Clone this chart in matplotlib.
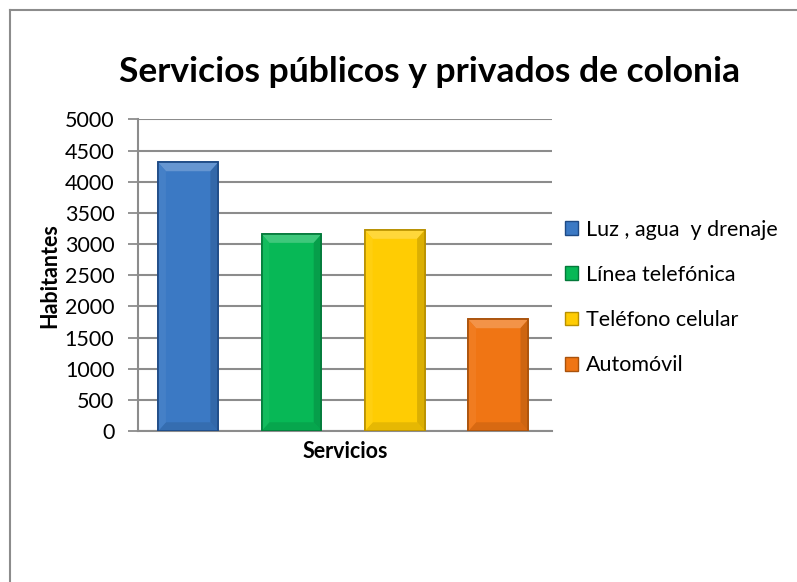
import matplotlib
matplotlib.use("Agg")
import matplotlib.pyplot as plt
from matplotlib.patches import Patch, Polygon
from matplotlib.lines import Line2D
import matplotlib.colors as mcolors

plt.rcParams['font.family'] = ['Lato', 'DejaVu Sans']

series = ["Luz , agua  y drenaje", "Línea telefónica", "Teléfono celular", "Automóvil"]
values = [4310, 3160, 3225, 1790]
colors = ["#3B79C4", "#07B856", "#FFCC03", "#F07514"]
edge_colors = ["#1E4A85", "#04793A", "#B89000", "#A9520C"]
title = "Servicios públicos y privados de colonia"
xlabel = "Servicios"
ylabel = "Habitantes"
yticks = [0, 500, 1000, 1500, 2000, 2500, 3000, 3500, 4000, 4500, 5000]

W, H = 797, 582
FS = 15.5
fig = plt.figure(figsize=(W / 100, H / 100), dpi=100)
ax = fig.add_axes([138 / W, (H - 431) / H, (552 - 138) / W, (431 - 119.5) / H])

def shade(c, f):
    r, g, b = mcolors.to_rgb(c)
    if f >= 0:
        return (r + (1 - r) * f, g + (1 - g) * f, b + (1 - b) * f)
    return (r * (1 + f), g * (1 + f), b * (1 + f))

x = list(range(len(values)))
bars = ax.bar(x, values, width=0.58, color=colors, edgecolor=edge_colors, linewidth=1.2, zorder=3)

# bevel decoration derived from each bar's geometry
for b, c in zip(bars, colors):
    x0, y0 = b.get_x(), b.get_y()
    w, h = b.get_width(), b.get_height()
    bx = 0.075
    by = 140
    x1, y1 = x0 + w, y0 + h
    top = Polygon([(x0, y1), (x1, y1), (x1 - bx, y1 - by), (x0 + bx, y1 - by)],
                  closed=True, facecolor=shade(c, 0.22), edgecolor='none', zorder=4)
    bot = Polygon([(x0, y0), (x1, y0), (x1 - bx, y0 + by), (x0 + bx, y0 + by)],
                  closed=True, facecolor=shade(c, -0.10), edgecolor='none', zorder=4)
    left = Polygon([(x0, y0), (x0 + bx, y0 + by), (x0 + bx, y1 - by), (x0, y1)],
                   closed=True, facecolor=shade(c, 0.05), edgecolor='none', zorder=4)
    right = Polygon([(x1, y0), (x1 - bx, y0 + by), (x1 - bx, y1 - by), (x1, y1)],
                    closed=True, facecolor=shade(c, -0.14), edgecolor='none', zorder=4)
    for p in (top, bot, left, right):
        ax.add_patch(p)
    ax.add_patch(plt.Rectangle((x0, y0), w, h, fill=False, edgecolor=b.get_edgecolor(),
                               linewidth=1.2, zorder=5))

ax.set_xlim(-0.485, 3.52)
ax.set_ylim(0, 5000)
ax.set_yticks(yticks)
ax.set_yticklabels([str(t) for t in yticks], fontsize=FS)
ax.set_xticks([])
ax.yaxis.grid(True, color="#8C8C8C", linewidth=1.5, zorder=0)
ax.set_axisbelow(True)
for s in ("top", "right"):
    ax.spines[s].set_visible(False)
for s in ("left", "bottom"):
    ax.spines[s].set_color("#8C8C8C")
    ax.spines[s].set_linewidth(1.5)
ax.tick_params(axis='y', length=7, width=1.3, color="#8C8C8C", pad=10)

ax.set_xlabel(xlabel, fontsize=FS, fontweight='bold', labelpad=7)
ax.set_ylabel(ylabel, fontsize=FS, fontweight='bold', labelpad=3)

fig.text(430 / W, 1 - 72 / H, title, fontsize=25.5, fontweight='bold', ha='center', va='center')

handles = [Patch(facecolor=c, edgecolor=e, linewidth=1) for c, e in zip(colors, edge_colors)]
fig.legend(handles, series, loc='center left', bbox_to_anchor=(565 / W, 1 - 297.5 / H),
           frameon=False, fontsize=FS, handlelength=0.6, handleheight=0.6,
           handletextpad=0.37, labelspacing=1.17, borderpad=0, borderaxespad=0)

# outer chart frame (top and left edges visible)
fig.add_artist(Line2D([10 / W, 10 / W], [0, 1 - 10 / H], transform=fig.transFigure,
                      color="#8C8C8C", linewidth=1.5))
fig.add_artist(Line2D([10 / W, 1], [1 - 10 / H, 1 - 10 / H], transform=fig.transFigure,
                      color="#8C8C8C", linewidth=1.5))

fig.savefig("out.png", dpi=100)
